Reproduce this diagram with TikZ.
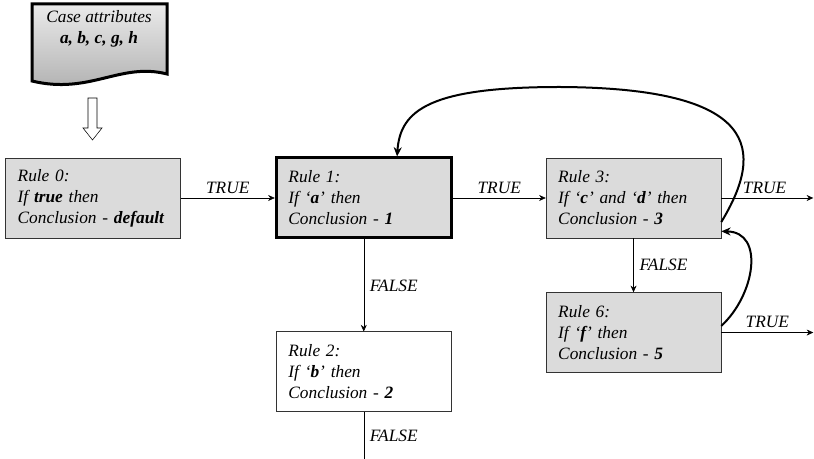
\documentclass[tikz,border=0pt]{standalone}
\usepackage{fontspec}
\setmainfont{Liberation Serif}
\usetikzlibrary{positioning,arrows.meta}

\tikzset{
  rulebox/.style={draw=black!80, fill=black!14, minimum width=131.25pt,
    minimum height=60pt, text width=113pt, align=left, inner xsep=9pt,
    font=\fontsize{13}{15.75}\selectfont\itshape},
  lbl/.style={font=\fontsize{13}{15.75}\selectfont\itshape},
  link/.style={-{Stealth[length=5pt,width=4.5pt]}, draw=black},
  backlink/.style={-{Stealth[length=7pt,width=6pt]}, draw=black, line width=1.5pt},
}

\begin{document}
\begin{tikzpicture}[x=0.75pt,y=-0.75pt]
  \useasboundingbox (0,0) rectangle (814,459);

  \draw[line width=2.25pt, top color=black!8, bottom color=black!32]
    (32,4) -- (167,4) -- (167,74) .. controls (120,62) and (90,95) .. (32,81) -- cycle;
  \node[lbl, align=center] (case) at (99,29) {Case attributes\\ \textbf{a, b, c, g, h}};
  \draw[fill=white] (88,98) -- (97,98) -- (97,128) -- (102,128) -- (92.5,140)
    -- (83,128) -- (88,128) -- cycle;

  \node[rulebox] (r0) at (93,198) {Rule 0:\\ If \textbf{true} then\\ Conclusion - \textbf{default}};
  \node[rulebox, draw=black, line width=2.25pt, right=70.5pt of r0] (r1) {Rule 1:\\ If `\textbf{a}' then\\ Conclusion - \textbf{1}};
  \node[rulebox, right=69.75pt of r1] (r3) {Rule 3:\\ If `\textbf{c}' and `\textbf{d}' then\\ Conclusion - \textbf{3}};
  \node[rulebox, fill=white, below=69pt of r1] (r2) {Rule 2:\\ If `\textbf{b}' then\\ Conclusion - \textbf{2}};
  \node[rulebox, below=40.5pt of r3] (r6) {Rule 6:\\ If `\textbf{f}' then\\ Conclusion - \textbf{5}};

  \coordinate[right=69pt of r3] (o3);
  \coordinate[right=69pt of r6.east] (o6);
  \coordinate[below=36pt of r2] (o2);

  \draw[link] (r0) -- node[lbl, above] {TRUE} (r1);
  \draw[link] (r1) -- node[lbl, above] {TRUE} (r3);
  \draw[link] (r3) -- node[lbl, above, pos=0.47] {TRUE} (o3);
  \draw[link] (r6.east) -- node[lbl, above, pos=0.5] {TRUE} (o6);
  \draw[link] (r1) -- node[lbl, right=1pt] {FALSE} (r2);
  \draw[link] (r3) -- node[lbl, right=1pt] {FALSE} (r6);
  \draw (r2) -- node[lbl, right=1pt] {FALSE} (o2);

  \draw[backlink] ([yshift=-18pt]r3.east) .. controls (765,150) and (760,88) .. (560,87)
    .. controls (430,87) and (400,110) .. ([xshift=25pt]r1.north);
  \draw[backlink] ([yshift=5pt]r6.east) .. controls (755,295) and (765,232) .. ([yshift=-25pt]r3.east);
\end{tikzpicture}
\end{document}
